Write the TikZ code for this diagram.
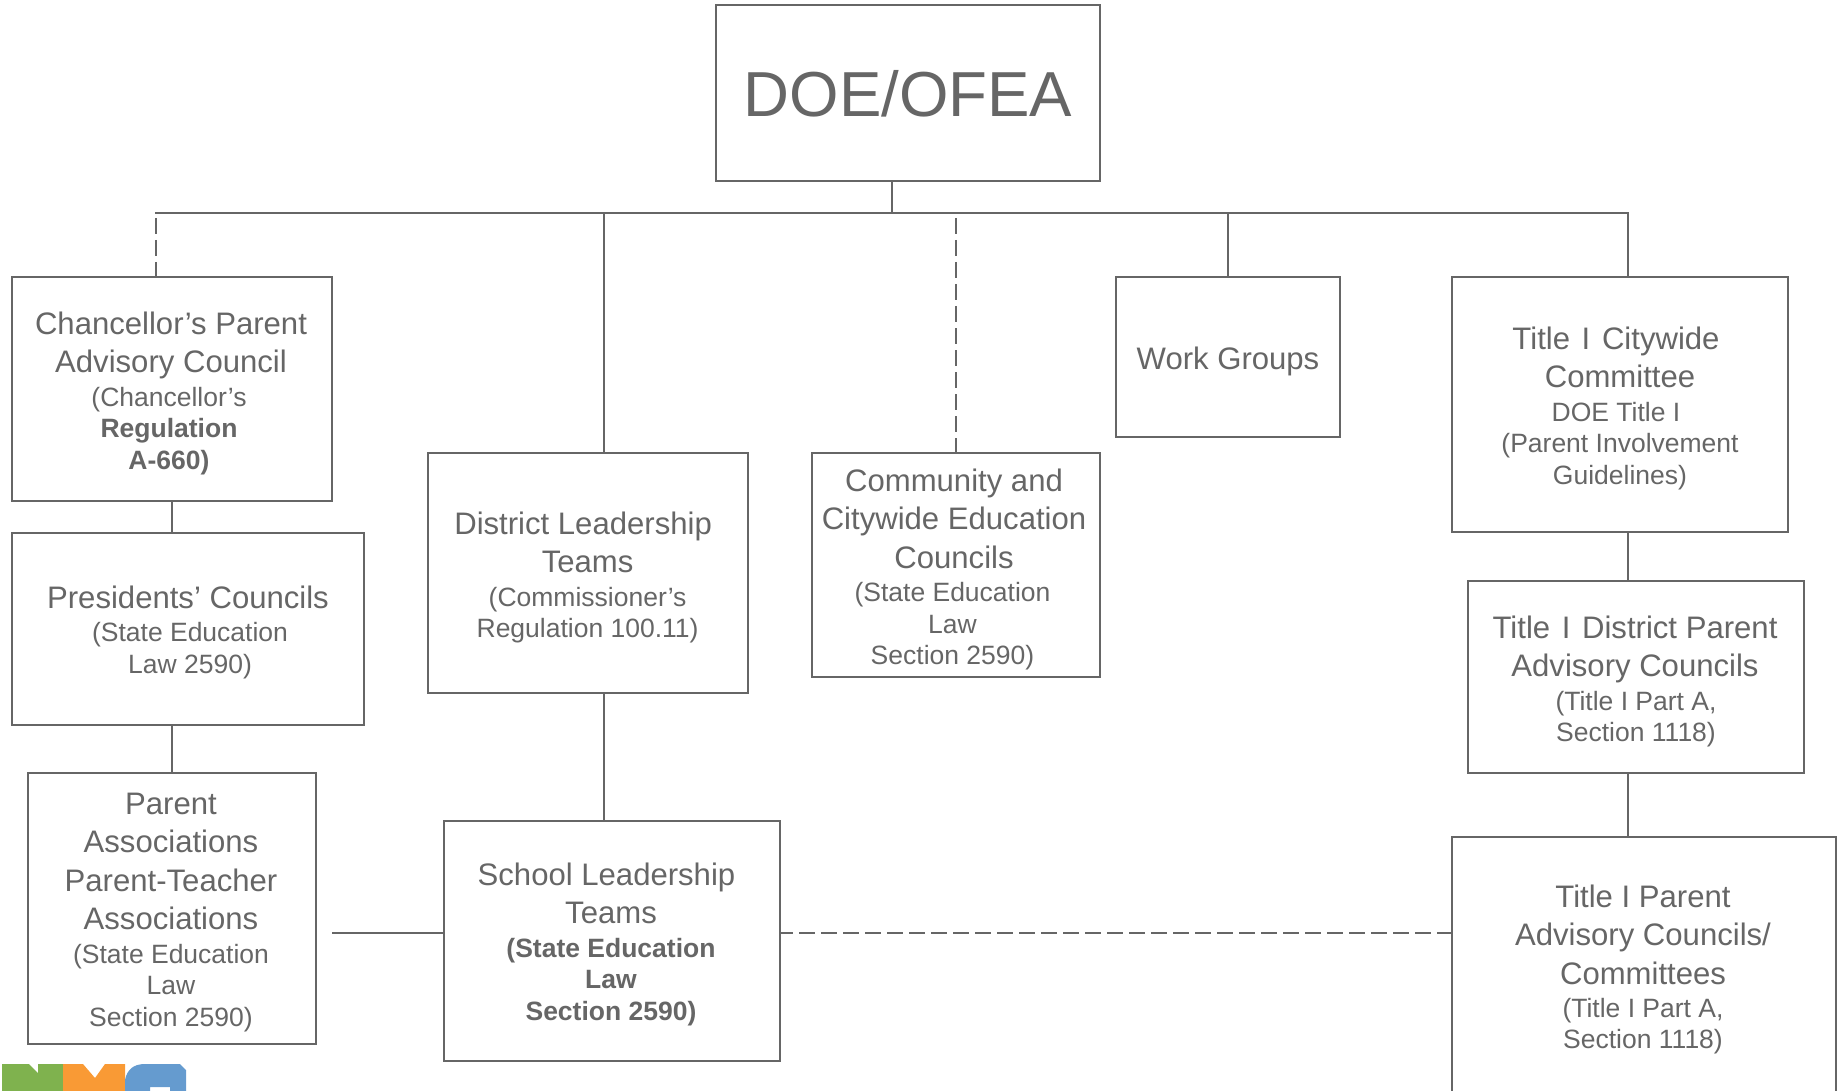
\documentclass[tikz,border=0pt]{standalone}
\usepackage{fontspec}
\setmainfont{Liberation Sans}
\definecolor{ink}{HTML}{666666}
\definecolor{lgreen}{HTML}{7FB24E}
\definecolor{lorange}{HTML}{F99A35}
\definecolor{lblue}{HTML}{659BCF}
\newcommand{\ttl}{\fontsize{31.1}{38.5}\selectfont}
\newcommand{\sbt}{\fontsize{26.5}{31.7}\selectfont}
% #1 title shift, #2 sub shift (twice the px the lines move), #3 title lines, #4 sub lines
\newcommand{\tw}[4]{\parbox{380pt}{\centering\leftskip=#1pt plus 1fil\relax\ttl #3\par\vskip1.5pt\leftskip=#2pt plus 1fil\relax\sbt #4\par}}
\newcommand{\Ibar}{\hspace{3pt}I\hspace{3pt}}
\tikzset{
  x=1pt,y=-1pt,
  box/.style={draw=ink,line width=2pt,fill=white,anchor=north west,inner sep=0pt,outer sep=0pt},
  lbl/.style={text=ink,inner sep=0pt,outer sep=0pt,anchor=center},
  conn/.style={draw=ink,line width=2pt},
  dashconn/.style={conn,dash pattern=on 16pt off 6pt},
}
\newcommand{\bx}[5]{\node[box,minimum width=#4pt-#2pt,minimum height=#5pt-#3pt] (#1) at (#2,#3) {};}
\begin{document}
\begin{tikzpicture}
\useasboundingbox (0,0) rectangle (1839,1091);
\clip (0,0) rectangle (1839,1091);
\bx{doe}{716}{5}{1100}{181}
\bx{chan}{12}{277}{332}{501}
\bx{pres}{12}{533}{364}{725}
\bx{passoc}{28}{773}{316}{1044}
\bx{dlt}{428}{453}{748}{693}
\bx{slt}{444}{821}{780}{1061}
\bx{comm}{812}{453}{1100}{677}
\bx{work}{1116}{277}{1340}{437}
\bx{city}{1452}{277}{1788}{532}
\bx{dist}{1468}{581}{1804}{773}
\bx{tpar}{1452}{837}{1836}{1120}
\coordinate (bdoe) at (891.5,213);
\coordinate (b1) at (156,213);
\coordinate (b2) at (604,213);
\coordinate (b3) at (956,213);
\coordinate (b4) at (1228,213);
\coordinate (b5) at (1628,213);
\coordinate (cx) at (172,0);
\coordinate (px) at (332,933);
\coordinate (ey) at (0,933);
\draw[conn,line cap=rect] (b1) -- (b5);
\draw[conn] (bdoe) -- (bdoe |- doe.south);
\draw[dashconn,dash phase=17pt] (b1) -- (b1 |- chan.north);
\draw[conn] (b2) -- (b2 |- dlt.north);
\draw[dashconn,dash phase=17pt] (b3) -- (b3 |- comm.north);
\draw[conn] (b4) -- (b4 |- work.north);
\draw[conn] (b5) -- (b5 |- city.north);
\draw[conn] (cx |- chan.south) -- (cx |- pres.north);
\draw[conn] (cx |- pres.south) -- (cx |- passoc.north);
\draw[conn] (b2 |- dlt.south) -- (b2 |- slt.north);
\draw[conn] (b5 |- city.south) -- (b5 |- dist.north);
\draw[conn] (b5 |- dist.south) -- (b5 |- tpar.north);
\draw[conn] (px) -- (slt.west |- px);
\draw[dashconn,dash phase=3pt] (slt.east |- ey) -- (tpar.west |- ey);
% labels
\node[lbl] (tdoe) at (908,94) {\fontsize{63.6}{70}\selectfont DOE/OFEA};
\node[lbl] (tchan) at (171,393.5) {\tw{0}{-4}{Chancellor’s Parent\\Advisory Council}{(Chancellor’s\\\textbf{Regulation}\\\textbf{A-660)}}};
\node[lbl] (tpres) at (188,632.5) {\tw{0}{4}{Presidents’ Councils}{(State Education\\Law 2590)}};
\node[lbl] (tpa) at (171,912.5) {\tw{0}{0}{Parent\\Associations\\Parent-Teacher\\Associations}{(State Education\\Law\\Section 2590)}};
\node[lbl] (tdlt) at (587.6,577.5) {\tw{0}{0}{\hspace*{-9pt}District Leadership\\Teams}{(Commissioner’s\\Regulation 100.11)}};
\node[lbl] (tslt) at (611,944.5) {\tw{0}{0}{\hspace*{-9pt}School Leadership\\Teams}{\textbf{(State Education}\\\textbf{Law}\\\textbf{Section 2590)}}};
\node[lbl] (tcomm) at (954,569.5) {\tw{0}{-3}{Community and\\Citywide Education\\Councils}{(State Education\\Law\\Section 2590)}};
\node[lbl] (twork) at (1228,361) {\ttl Work Groups};
\node[lbl] (tcity) at (1620,408.5) {\tw{0}{0}{\hspace*{-8pt}Title \Ibar{} Citywide\\Committee}{\hspace*{-8pt}DOE Title I\\(Parent Involvement\\Guidelines)}};
\node[lbl] (tdist) at (1635,681.5) {\tw{0}{2}{Title \Ibar{} District Parent\\Advisory Councils}{(Title I Part A,\\Section 1118)}};
\node[lbl] (ttpar) at (1643,969.5) {\tw{0}{0}{Title I Parent\\Advisory Councils/\\Committees}{(Title I Part A,\\Section 1118)}};
% logo
\fill[lgreen] (2,1064) -- (29,1064) -- (38,1073) -- (38,1064) -- (63,1064) -- (63,1091) -- (2,1091) -- cycle;
\fill[lorange] (63,1064) -- (83,1064) -- (95,1078) -- (105,1064) -- (125,1064) -- (125,1091) -- (63,1091) -- cycle;
\fill[lblue] (125,1080) .. controls (127,1070) and (133,1064) .. (145,1064) -- (180,1064) -- (186,1070) -- (186,1091) -- (170,1091) -- (170,1087) -- (150,1087) -- (150,1091) -- (125,1091) -- cycle;
\end{tikzpicture}
\end{document}
